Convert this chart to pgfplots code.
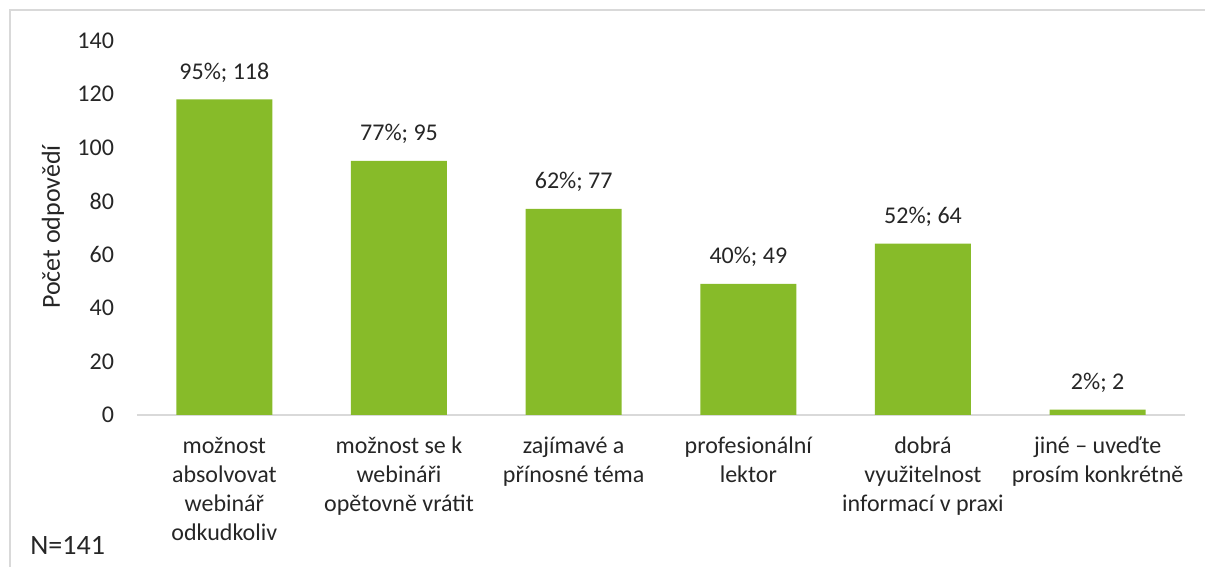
\documentclass[border=0pt]{standalone}
\usepackage{pgfplots}
\usepackage{pgfplotstable}
\pgfplotsset{compat=1.18}
\usepackage{fontspec}
\setmainfont{Carlito}
\definecolor{barg}{HTML}{87BB29}
\definecolor{gridg}{HTML}{D9D9D9}
\definecolor{txt}{HTML}{262626}
\pgfplotstableread{
x y pct
0 118 95
1 95 77
2 77 62
3 49 40
4 64 52
5 2 2
}\datatable
\begin{document}
\begin{tikzpicture}
\useasboundingbox (0,0) rectangle (602.5pt,283.5pt);
\draw[gridg, line width=1.2pt] (5pt,0) -- (5pt,278.5pt) -- (602.5pt,278.5pt);
\begin{axis}[
  at={(68.5pt,76pt)}, anchor=south west,
  scale only axis, width=524pt, height=187.3pt,
  xmin=-0.5, xmax=5.5, ymin=0, ymax=140,
  ytick={0,20,...,140},
  xtick={0,1,2,3,4,5},
  xticklabels={{možnost\\absolvovat\\webinář\\odkudkoliv},{možnost se k\\webináři\\opětovně vrátit},{zajímavé a\\přínosné téma},{profesionální\\lektor},{dobrá\\využitelnost\\informací v praxi},{jiné – uveďte\\prosím konkrétně}},
  xticklabel style={align=center, font=\fontsize{12}{14.5}\selectfont, text=txt, yshift=-7.5pt},
  yticklabel style={font=\fontsize{12}{14}\selectfont, text=txt, xshift=-8pt},
  /pgf/number format/assume math mode=true,
  axis x line*=bottom, axis y line*=left,
  x axis line style={gridg, line width=1pt, -},
  y axis line style={draw=none},
  major tick length=0pt,
  ybar, bar width=48pt,
  clip=false,
]
\addplot[fill=barg, draw=none, bar shift=0pt,
  visualization depends on={\thisrow{pct} \as \pct},
  point meta=y,
  nodes near coords={\pgfmathprintnumber{\pct}\%; \pgfmathprintnumber{\pgfplotspointmeta}},
  every node near coord/.append style={font=\fontsize{12}{14}\selectfont, text=txt, yshift=5pt},
] table[x=x, y=y] {\datatable};
\end{axis}
\node[rotate=90, font=\fontsize{13}{15}\selectfont, text=txt] at (26.5pt,170pt) {Počet odpovědí};
\node[anchor=base west, font=\fontsize{14}{16}\selectfont, text=txt, inner sep=0pt] at (15pt,6pt) {N=141};
\end{tikzpicture}
\end{document}
